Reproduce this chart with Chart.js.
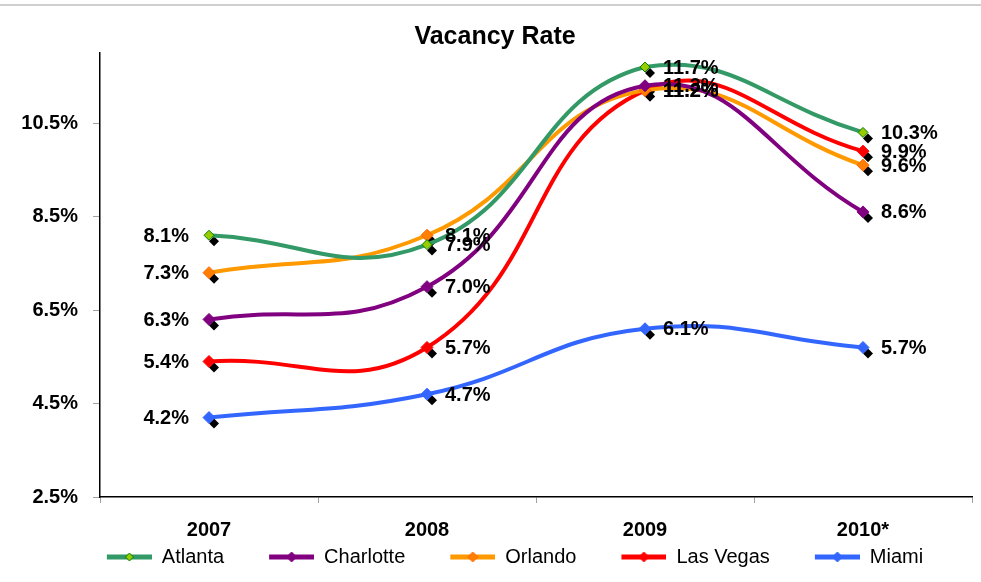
<!DOCTYPE html>
<html>
<head>
<meta charset="utf-8">
<title>Vacancy Rate</title>
<script src="https://cdn.jsdelivr.net/npm/chart.js@4.4.0/dist/chart.umd.min.js"></script>
<style>
    html, body { margin: 0; padding: 0; background: #fff; }
    #wrap { width: 981px; height: 582px; }
</style>
</head>
<body>
<div id="wrap"><canvas id="vacancyChart" width="981" height="582"></canvas></div>
<script>
// Data
const years = ['2007', '2008', '2009', '2010*'];
const atlanta = [8.1, 7.9, 11.7, 10.3];
const charlotte = [6.3, 7.0, 11.3, 8.6];
const orlando = [7.3, 8.1, 11.2, 9.6];
const lasVegas = [5.4, 5.7, 11.2, 9.9];
const miami = [4.2, 4.7, 6.1, 5.7];
const yTicks = [2.5, 4.5, 6.5, 8.5, 10.5];
const yMin = 2.5;
const yMax = 12;

const FONT = "'Liberation Sans', Arial, sans-serif";
const SWATCH_GAP = 40;   // blank room before each legend line = spacing between items

// Line + diamond swatch used in the legend
function legendSwatch(lineColor, fill, border, r) {
    const c = document.createElement('canvas');
    c.width = SWATCH_GAP + 45;
    c.height = 14;
    const g = c.getContext('2d');
    g.strokeStyle = lineColor;
    g.lineWidth = 5;
    g.beginPath();
    g.moveTo(SWATCH_GAP, 7);
    g.lineTo(SWATCH_GAP + 45, 7);
    g.stroke();
    const cx = SWATCH_GAP + 22.5;
    g.fillStyle = fill;
    g.strokeStyle = border;
    g.lineWidth = 1;
    g.beginPath();
    g.moveTo(cx, 7 - r);
    g.lineTo(cx + r, 7);
    g.lineTo(cx, 7 + r);
    g.lineTo(cx - r, 7);
    g.closePath();
    g.fill();
    g.stroke();
    return c;
}

function series(label, data, line, fill, border, r) {
    return {
        label: label,
        data: data,
        borderColor: line,
        borderWidth: 4,
        pointStyle: 'rectRot',
        pointRadius: r,
        pointBackgroundColor: fill,
        pointBorderColor: border,
        pointBorderWidth: 1,
        tension: 0.45,
        fill: false,
        swatch: legendSwatch(line, fill, border, r - 1)
    };
}

// Black offset diamonds under each marker (the "shadow" in the original)
const markerShadow = {
    id: 'markerShadow',
    beforeDatasetsDraw(chart) {
        const ctx = chart.ctx;
        ctx.save();
        ctx.fillStyle = '#000';
        chart.data.datasets.forEach((ds, i) => {
            chart.getDatasetMeta(i).data.forEach(p => {
                const x = p.x + 5, y = p.y + 6, r = 5;
                ctx.beginPath();
                ctx.moveTo(x, y - r);
                ctx.lineTo(x + r, y);
                ctx.lineTo(x, y + r);
                ctx.lineTo(x - r, y);
                ctx.closePath();
                ctx.fill();
            });
        });
        ctx.restore();
    }
};

// Value labels beside each point
const valueLabels = {
    id: 'valueLabels',
    afterDatasetsDraw(chart) {
        const ctx = chart.ctx;
        ctx.save();
        ctx.font = 'bold 20px ' + FONT;
        ctx.fillStyle = '#000';
        ctx.textBaseline = 'middle';
        chart.data.datasets.forEach((ds, i) => {
            chart.getDatasetMeta(i).data.forEach((p, j) => {
                const txt = ds.data[j].toFixed(1) + '%';
                if (j === 0) {
                    ctx.textAlign = 'right';
                    ctx.fillText(txt, p.x - 20, p.y + 1);
                } else {
                    ctx.textAlign = 'left';
                    ctx.fillText(txt, p.x + 18, p.y + 1);
                }
            });
        });
        ctx.restore();
    }
};

// thin grey rule across the top of the image
const topRule = {
    id: 'topRule',
    beforeDraw(chart) {
        const ctx = chart.ctx;
        ctx.save();
        ctx.strokeStyle = '#cfcfcf';
        ctx.lineWidth = 2;
        ctx.beginPath();
        ctx.moveTo(0, 5);
        ctx.lineTo(chart.width, 5);
        ctx.stroke();
        ctx.restore();
    }
};

const ctx = document.getElementById('vacancyChart').getContext('2d');

new Chart(ctx, {
    type: 'line',
    data: {
        labels: years,
        datasets: [
            series('Atlanta', atlanta, '#339966', '#99cc00', '#008000', 5),
            series('Charlotte', charlotte, '#800080', '#800080', '#800080', 6),
            series('Orlando', orlando, '#ff9900', '#ff7f00', '#ff6600', 6),
            series('Las Vegas', lasVegas, '#ff0000', '#ff0000', '#ff0000', 6),
            series('Miami', miami, '#3366ff', '#3366ff', '#3366ff', 6)
        ]
    },
    plugins: [topRule, markerShadow, valueLabels],
    options: {
        responsive: false,
        animation: false,
        events: [],
        layout: {
            padding: { left: 18, right: 9, top: 0, bottom: 5 }
        },
        plugins: {
            title: {
                display: true,
                text: 'Vacancy Rate',
                color: '#000',
                font: { family: FONT, size: 25, weight: 'bold' },
                padding: { top: 22, bottom: 1 }
            },
            legend: {
                position: 'bottom',
                labels: {
                    color: '#000',
                    font: { family: FONT, size: 20 },
                    usePointStyle: true,
                    pointStyleWidth: SWATCH_GAP + 45,
                    padding: 5,
                    generateLabels: chart => chart.data.datasets.map((ds, i) => ({
                        text: ds.label,
                        pointStyle: ds.swatch,
                        rotation: 0,
                        fillStyle: ds.borderColor,
                        strokeStyle: ds.borderColor,
                        lineWidth: 0,
                        hidden: false,
                        datasetIndex: i
                    }))
                }
            },
            tooltip: { enabled: false }
        },
        scales: {
            x: {
                offset: true,
                afterFit: scale => { scale.height = 45; },
                grid: {
                    offset: true,
                    drawOnChartArea: false,
                    tickLength: 6,
                    color: '#a0a0a0'
                },
                border: { color: '#000', width: 1.5 },
                ticks: {
                    color: '#000',
                    padding: 15,
                    font: { family: FONT, size: 20, weight: 'bold' }
                }
            },
            y: {
                min: yMin,
                max: yMax,
                afterFit: scale => { scale.width = 82; },
                afterBuildTicks: axis => { axis.ticks = yTicks.map(v => ({ value: v })); },
                grid: {
                    drawOnChartArea: false,
                    tickLength: 7,
                    color: '#a0a0a0'
                },
                border: { color: '#000', width: 1.5 },
                ticks: {
                    color: '#000',
                    padding: 15,
                    font: { family: FONT, size: 20, weight: 'bold' },
                    callback: v => v.toFixed(1) + '%'
                }
            }
        }
    }
});
</script>
</body>
</html>
